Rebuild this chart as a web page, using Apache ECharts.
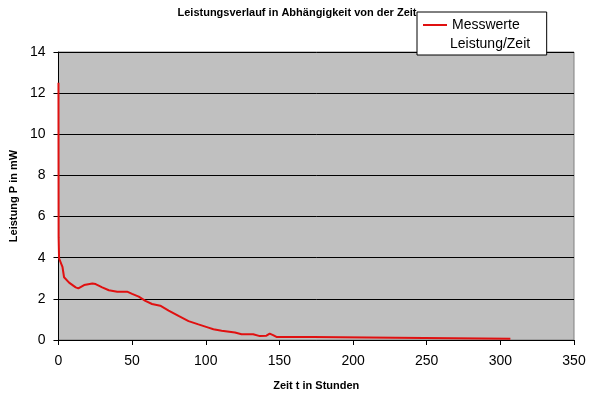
<!DOCTYPE html>
<html>
<head>
<meta charset="utf-8">
<script src="https://cdn.jsdelivr.net/npm/echarts@6/dist/echarts.min.js"></script>
<style>
  html, body { margin: 0; padding: 0; background: #fff; }
  #main { width: 594px; height: 397px; }
</style>
</head>
<body>
<div id="main"></div>
<script>
// Messwerte: Zeit t in Stunden / Leistung P in mW
const hours = [0, 0.1, 0.4, 2.7, 3.8, 7.2, 11.7, 13.5, 17.4, 23, 25.2, 29.7, 34.2, 39.9, 46.6,
  50, 54.5, 59, 63.5, 69.1, 74.8, 81.5, 88.3, 95, 101.8, 105.2, 110.8, 119.8, 124.3, 132.2,
  136.7, 141.2, 143.4, 145.7, 148, 172.7, 173, 229, 229.5, 306.8];
const power = [12.5, 5.0, 3.97, 3.56, 3.05, 2.79, 2.56, 2.51, 2.67, 2.75, 2.72, 2.56, 2.42, 2.35, 2.35,
  2.24, 2.11, 1.90, 1.75, 1.67, 1.43, 1.17, 0.92, 0.76, 0.60, 0.52, 0.45, 0.36, 0.28, 0.28,
  0.19, 0.21, 0.31, 0.24, 0.15, 0.15, 0.11, 0.11, 0.06, 0.06];
const legendLines = ['Messwerte', 'Leistung/Zeit'];

const font = 'Liberation Sans, Arial, sans-serif';
const myChart = echarts.init(document.getElementById('main'));

const option = {
  animation: false,
  backgroundColor: '#fff',
  title: {
    text: 'Leistungsverlauf in Abhängigkeit von der Zeit',
    left: 'center',
    top: 2,
    textStyle: { fontFamily: font, fontSize: 11, fontWeight: 'bold', color: '#000' }
  },
  legend: {
    left: 417,
    top: 12,
    z: 10,
    icon: 'rect',
    itemWidth: 24,
    itemHeight: 2,
    padding: [5, 27, 22, 6],
    backgroundColor: '#fff',
    borderColor: '#000',
    borderWidth: 1,
    borderRadius: 0,
    textStyle: { fontFamily: font, fontSize: 14, color: '#000', lineHeight: 16 },
    data: [legendLines[0]]
  },
  graphic: [{
    type: 'text',
    left: 450,
    top: 37,
    z: 100,
    style: { text: legendLines[1], font: '14px ' + font, fill: '#000' }
  }],
  grid: {
    left: 56,
    right: 20,
    top: 52,
    bottom: 57,
    show: true,
    backgroundColor: '#c0c0c0',
    borderColor: '#808080',
    borderWidth: 1
  },
  xAxis: {
    type: 'value',
    min: 0,
    max: 350,
    interval: 50,
    name: 'Zeit t in Stunden',
    nameLocation: 'middle',
    nameGap: 40,
    nameTextStyle: { fontFamily: font, fontSize: 11, fontWeight: 'bold', color: '#000' },
    axisLine: { show: true, onZero: false, lineStyle: { color: '#000', width: 1 } },
    axisTick: { show: true, length: 5, lineStyle: { color: '#000' } },
    axisLabel: { fontFamily: font, fontSize: 14, color: '#000', margin: 14 },
    splitLine: { show: false }
  },
  yAxis: {
    type: 'value',
    min: 0,
    max: 14,
    interval: 2,
    name: 'Leistung P in mW',
    nameLocation: 'middle',
    nameGap: 38,
    nameTextStyle: { fontFamily: font, fontSize: 11, fontWeight: 'bold', color: '#000' },
    axisLine: { show: true, lineStyle: { color: '#000', width: 1 } },
    axisTick: { show: true, length: 5, lineStyle: { color: '#000' } },
    axisLabel: { fontFamily: font, fontSize: 14, color: '#000', margin: 13 },
    splitLine: { show: true, lineStyle: { color: '#000', width: 1 } }
  },
  series: [{
    name: legendLines[0],
    type: 'line',
    showSymbol: false,
    symbol: 'none',
    color: '#e01010',
    lineStyle: { color: '#e01010', width: 2 },
    data: hours.map((t, i) => [t, power[i]])
  }]
};
myChart.setOption(option);
</script>
</body>
</html>
